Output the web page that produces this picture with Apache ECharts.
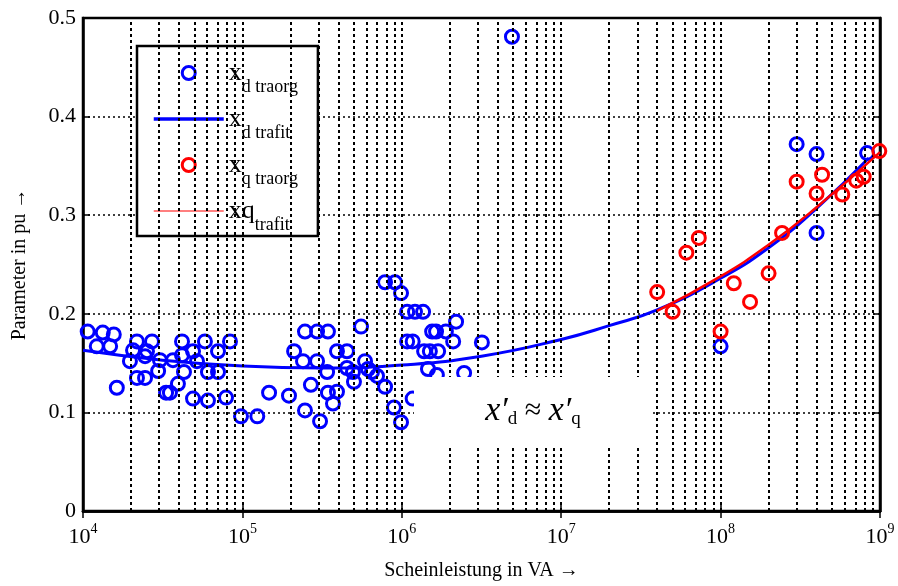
<!DOCTYPE html>
<html>
<head>
<meta charset="utf-8">
<script src="https://cdn.jsdelivr.net/npm/echarts@6/dist/echarts.min.js"></script>
<style>
html,body{margin:0;padding:0;background:#fff;}
#c{width:898px;height:586px;}
</style>
</head>
<body>
<div id="c"></div>
<script>
// ---- data (Scheinleistung in VA, Parameter in pu) ----
const xdOrgS = [1.07e4,1.33e4,1.56e4,1.22e4,1.48e4,1.63e4,2.18e4,2.71e4,2.06e4,2.52e4,
  1.97e4,2.45e4,2.18e4,2.45e4,3.04e4,2.96e4,3.67e4,4.18e4,4.18e4,4.90e4,
  5.19e4,4.30e4,3.94e4,3.32e4,3.51e4,4.90e4,5.82e4,7.03e4,8.36e4,6.08e4,
  7.03e4,6.08e4,7.89e4,9.8e4,1.24e5,1.47e5,1.96e5,2.11e5,2.40e5,2.47e5,
  2.94e5,3.44e5,2.94e5,2.69e5,2.47e5,3.07e5,3.40e5,3.44e5,3.70e5,3.92e5,
  3.92e5,4.53e5,4.53e5,4.94e5,5.01e5,5.55e5,5.88e5,6.14e5,6.50e5,6.99e5,
  7.85e5,8.93e5,9.89e5,7.85e5,9.06e5,9.89e5,1.08e6,1.21e6,1.36e6,1.08e6,
  1.17e6,2.19e6,1.55e6,1.64e6,1.89e6,2.10e6,3.18e6,1.38e6,1.50e6,1.69e6,
  1.46e6,1.66e6,2.46e6,1.17e6,4.91e6,1.0e8,3.0e8,4.0e8,4.0e8,8.3e8];
const xdOrgVal = [0.182,0.181,0.179,0.167,0.167,0.125,0.172,0.172,0.163,0.162,
  0.152,0.157,0.135,0.135,0.153,0.142,0.153,0.172,0.158,0.162,
  0.152,0.141,0.129,0.120,0.120,0.114,0.172,0.162,0.172,0.141,
  0.141,0.112,0.115,0.096,0.096,0.120,0.117,0.162,0.152,0.182,
  0.182,0.182,0.152,0.128,0.102,0.091,0.141,0.120,0.109,0.121,
  0.162,0.162,0.145,0.141,0.131,0.187,0.152,0.144,0.141,0.137,
  0.126,0.105,0.090,0.232,0.232,0.221,0.202,0.202,0.202,0.172,
  0.172,0.192,0.182,0.182,0.182,0.172,0.171,0.162,0.162,0.162,
  0.144,0.138,0.140,0.114,0.481,0.167,0.372,0.362,0.282,0.363];
const xdFitS   = [1e4,3.16e4,1e5,3.16e5,1e6,3.16e6,1e7,2e7,4e7,1e8,2e8,4e8,8.5e8];
const xdFitVal = [0.163,0.153,0.147,0.145,0.148,0.157,0.174,0.188,0.204,0.236,0.267,0.307,0.358];
const xqOrgS   = [4e7,5e7,6.1e7,7.3e7,1e8,1.21e8,1.53e8,2e8,2.43e8,3e8,4e8,4.33e8,5.8e8,7.1e8,7.9e8,9.9e8];
const xqOrgVal = [0.222,0.202,0.262,0.277,0.182,0.231,0.212,0.241,0.282,0.334,0.322,0.341,0.321,0.335,0.339,0.365];
const xqFitS   = [4e7,1e8,2e8,4e8,1e9];
const xqFitVal = [0.203,0.238,0.270,0.308,0.364];
const decades  = [1e4,1e5,1e6,1e7,1e8];
const gridMult = [1,2,3,4,5,6,7,8,9];
const yTicks   = [0,0.1,0.2,0.3,0.4,0.5];

const pairs = (xs, ys) => xs.map((x, i) => [x, ys[i]]);
const vGrid = [];
decades.forEach(d => gridMult.forEach(m => { const v = d * m; if (v > 1e4) vGrid.push({ xAxis: v }); }));

const FONT = 'Liberation Serif';
const BLUE = '#0000ff', RED = '#ff0000';
const chart = echarts.init(document.getElementById('c'), null, { renderer: 'canvas' });
const subRich = {
  m: { fontFamily: FONT, fontSize: 26, lineHeight: 26, color: '#000', verticalAlign: 'middle' },
  s: { fontFamily: FONT, fontSize: 18, lineHeight: 18, color: '#000', padding: [28, 0, 0, 0], verticalAlign: 'middle' }
};
const legendText = {
  'xd traorg': '{m|x}{s|d traorg}',
  'xd trafit': '{m|x}{s|d trafit}',
  'xq traorg': '{m|x}{s|q traorg}',
  'xq trafit': '{m|xq}{s|trafit}'
};

chart.setOption({
  animation: false,
  backgroundColor: '#fff',
  grid: { left: 83, right: 18, top: 18, bottom: 73, show: true, borderColor: '#000', borderWidth: 2.5, backgroundColor: 'transparent' },
  xAxis: [{
    type: 'log', logBase: 10, min: 1e4, max: 1e9,
    name: 'Scheinleistung in VA \u2192', nameLocation: 'middle', nameGap: 50,
    nameTextStyle: { fontFamily: FONT, fontSize: 20, color: '#000' },
    axisLine: { show: true, lineStyle: { color: '#000', width: 2.5 } },
    axisTick: { show: true, inside: true, length: 7, lineStyle: { color: '#000', width: 1.5 } },
    splitLine: { show: false },
    axisLabel: {
      margin: 11,
      formatter: v => '{b|10}{s|' + Math.round(Math.log10(v)) + '}',
      rich: {
        b: { fontFamily: FONT, fontSize: 22, lineHeight: 26, color: '#000', verticalAlign: 'bottom' },
        s: { fontFamily: FONT, fontSize: 14, lineHeight: 14, color: '#000', verticalAlign: 'top' }
      }
    }
  }, {
    type: 'log', logBase: 10, min: 1e4, max: 1e9, position: 'top',
    axisLine: { show: true, lineStyle: { color: '#000', width: 2.5 } },
    axisTick: { show: true, inside: true, length: 7, lineStyle: { color: '#000', width: 1.5 } },
    axisLabel: { show: false }, splitLine: { show: false }
  }],
  yAxis: [{
    type: 'value', min: 0, max: 0.5, interval: 0.1,
    name: 'Parameter in pu \u2192', nameLocation: 'middle', nameGap: 53, nameRotate: 90,
    nameTextStyle: { fontFamily: FONT, fontSize: 20, color: '#000' },
    axisLine: { show: true, lineStyle: { color: '#000', width: 2.5 } },
    axisTick: { show: true, inside: true, length: 7, lineStyle: { color: '#000', width: 1.5 } },
    axisLabel: { margin: 7, fontFamily: FONT, fontSize: 22, color: '#000', formatter: v => (yTicks.indexOf(+v.toFixed(1)) >= 0 ? String(+v.toFixed(1)) : '') },
    splitLine: { show: true, lineStyle: { color: '#000', width: 1.5, type: [2, 3] } }
  }, {
    type: 'value', min: 0, max: 0.5, interval: 0.1, position: 'right',
    axisLine: { show: true, lineStyle: { color: '#000', width: 2.5 } },
    axisTick: { show: true, inside: true, length: 7, lineStyle: { color: '#000', width: 1.5 } },
    axisLabel: { show: false }, splitLine: { show: false }
  }],
  legend: {
    orient: 'vertical', left: 137, top: 46,
    padding: [4, 20, 2, 15], itemGap: 0,
    itemWidth: 70, itemHeight: 13,
    backgroundColor: '#fff', borderColor: '#000', borderWidth: 2.5,
    data: [
      { name: 'xd traorg', icon: 'circle', itemStyle: { color: 'rgba(0,0,0,0)', borderColor: BLUE, borderWidth: 3 } },
      { name: 'xd trafit', icon: 'line', itemStyle: { color: BLUE, borderColor: BLUE, borderWidth: 3.5 } },
      { name: 'xq traorg', icon: 'circle', itemStyle: { color: 'rgba(0,0,0,0)', borderColor: RED, borderWidth: 3 } },
      { name: 'xq trafit', icon: 'line', itemStyle: { color: RED, borderColor: RED, borderWidth: 1.2 } }
    ],
    formatter: n => legendText[n],
    textStyle: { rich: subRich, fontFamily: FONT }
  },
  graphic: [{
    type: 'group', z: 100,
    children: [
      { type: 'rect', shape: { x: 414, y: 377, width: 236, height: 69 }, style: { fill: '#fff' }, z: 100 },
      { type: 'text', x: 533, y: 411, z: 101,
        style: {
          text: '{i|x\u2032}{s|d}{o| \u2248 }{i|x\u2032}{s|q}',
          align: 'center', verticalAlign: 'middle',
          rich: {
            i: { fontFamily: FONT, fontStyle: 'italic', fontSize: 34, lineHeight: 34, fill: '#000', verticalAlign: 'middle' },
            o: { fontFamily: FONT, fontSize: 30, lineHeight: 30, fill: '#000', verticalAlign: 'middle' },
            s: { fontFamily: FONT, fontSize: 19, lineHeight: 19, fill: '#000', padding: [16, 0, 0, 0], verticalAlign: 'middle' }
          }
        } }
    ]
  }],
  series: [{
    name: 'grid', type: 'scatter', data: [], silent: true, z: 1,
    markLine: {
      silent: true, symbol: ['none', 'none'], label: { show: false },
      lineStyle: { color: '#000', width: 2, type: [3, 3] },
      emphasis: { disabled: true },
      data: vGrid
    }
  }, {
    name: 'xd traorg', type: 'scatter', z: 3,
    data: pairs(xdOrgS, xdOrgVal),
    symbol: 'circle', symbolSize: 13,
    itemStyle: { color: 'rgba(0,0,0,0)', borderColor: BLUE, borderWidth: 3, opacity: 1 }
  }, {
    name: 'xd trafit', type: 'line', z: 4, smooth: true,
    data: pairs(xdFitS, xdFitVal), symbol: 'none', showSymbol: false,
    lineStyle: { color: BLUE, width: 3 }, itemStyle: { color: BLUE }
  }, {
    name: 'xq traorg', type: 'scatter', z: 5,
    data: pairs(xqOrgS, xqOrgVal),
    symbol: 'circle', symbolSize: 13,
    itemStyle: { color: 'rgba(0,0,0,0)', borderColor: RED, borderWidth: 3, opacity: 1 }
  }, {
    name: 'xq trafit', type: 'line', z: 6, smooth: true,
    data: pairs(xqFitS, xqFitVal), symbol: 'none', showSymbol: false,
    lineStyle: { color: RED, width: 2.5 }, itemStyle: { color: RED }
  }]
});
</script>
</body>
</html>
